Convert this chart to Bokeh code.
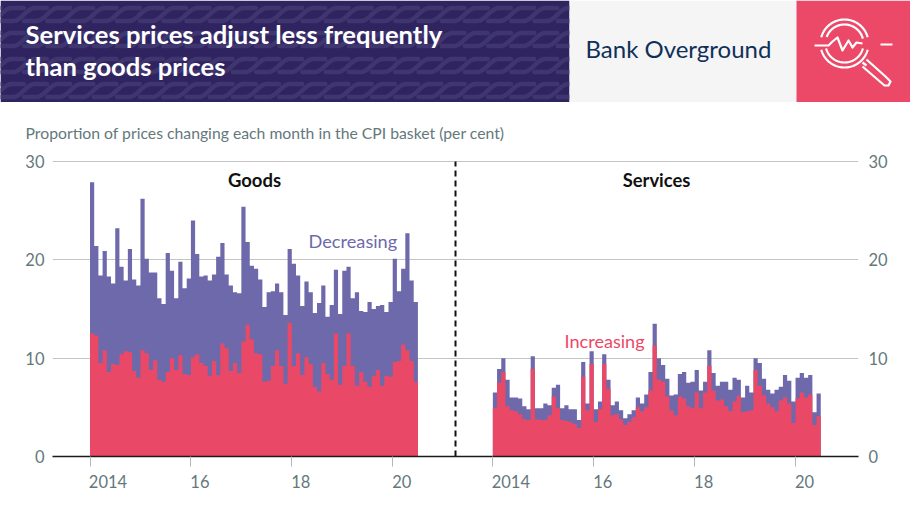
import numpy as np
from bokeh.embed import file_html
from bokeh.layouts import column
from bokeh.models import FixedTicker, Grid, Label, LinearAxis, Range1d
from bokeh.plotting import figure
from bokeh.resources import INLINE

# ---- Data (per cent of prices changing each month) ----
goods_increase = [12.5,12.3,9.5,10.8,8.6,9.4,9.3,10.4,10.7,10.6,8.7,8.0,10.8,10.5,8.8,9.8,7.8,7.6,8.6,10.0,
                  8.8,10.3,8.4,8.3,10.1,10.4,9.5,9.2,8.2,9.7,8.3,11.5,11.0,8.7,9.5,8.5,11.7,13.4,11.9,10.5,
                  10.4,7.6,7.7,9.2,10.8,9.2,7.4,13.6,9.2,10.5,8.3,10.1,9.4,7.1,6.6,9.5,8.4,7.8,12.5,7.3,
                  9.2,12.5,9.2,7.2,8.6,7.6,7.1,8.2,8.8,7.2,8.2,8.1,9.6,9.7,11.4,10.8,9.7,7.6]
goods_all_changes = [27.9,21.4,18.4,20.9,18.3,17.6,23.2,19.3,17.9,21.1,18.0,17.4,26.2,20.1,18.7,18.7,16.1,15.5,20.7,18.9,
                     16.1,19.8,17.1,18.1,24.0,20.6,18.3,18.4,17.9,18.5,20.3,21.7,18.5,17.4,16.7,16.6,25.4,21.8,19.4,19.1,
                     18.0,15.2,16.7,16.8,17.6,16.7,14.4,21.1,19.6,18.4,15.3,17.8,16.7,14.6,15.6,17.4,14.2,15.4,19.0,14.5,
                     18.9,19.3,16.1,16.7,14.8,14.7,15.7,15.0,15.3,15.4,14.7,15.7,20.1,16.8,19.1,22.7,17.9,15.7]
services_increase = [4.9,7.5,8.6,5.1,4.7,4.6,4.3,3.8,3.7,8.9,3.8,3.7,3.7,4.2,6.1,4.9,3.7,3.6,3.5,3.3,
                     2.9,8.1,4.7,9.4,3.5,4.8,9.4,6.9,4.2,4.3,3.8,3.2,3.5,4.0,5.0,4.6,5.0,6.7,11.3,7.8,
                     7.6,6.1,4.7,4.2,6.1,5.9,5.1,4.9,6.5,4.9,6.5,9.2,6.7,5.7,5.8,5.1,4.6,5.6,6.2,4.5,
                     4.6,4.7,8.8,7.2,6.2,5.4,5.0,4.6,5.7,6.0,5.4,3.4,5.9,6.5,6.0,6.3,3.2,4.1]
services_all_changes = [6.5,8.9,10.0,7.8,6.0,6.0,5.9,5.1,4.8,10.2,4.9,4.9,5.4,5.2,7.0,7.3,4.9,5.2,4.8,4.8,
                        3.7,9.6,5.4,10.7,4.8,5.6,10.4,7.8,5.2,5.6,4.7,3.9,4.3,4.7,6.0,5.4,6.3,8.6,13.5,10.0,
                        9.3,7.9,6.2,6.3,8.4,8.6,7.5,7.6,8.8,6.7,7.6,10.8,8.5,7.2,7.6,7.6,6.8,8.0,7.8,6.0,
                        7.2,6.5,10.0,9.5,7.9,6.8,6.4,6.8,7.1,8.3,7.7,5.6,8.0,8.5,8.0,8.3,4.5,6.4]
year_tick_labels = ["2014", "16", "18", "20"]
year_tick_values = [2014, 2016, 2018, 2020]
y_ticks = [0, 10, 20, 30]
SERVICES_SHIFT = 7.985   # the services panel is drawn about 8 axis-years to the right of goods
DIVIDER_YEAR = 2021.245

PURPLE, RED = "#6e69aa", "#ea4867"
TICK_COL = "#64787c"
FONT = "Lato"

# ---- Header strip: drawn in page pixels ----
h = figure(width=910, height=102, output_backend="svg", toolbar_location=None,
           x_range=Range1d(0, 910), y_range=Range1d(102, 0), frame_align=False,
           x_axis_type=None, y_axis_type=None, min_border=0, outline_line_color=None)
h.grid.visible = False
h.quad(left=0, right=569, top=0, bottom=102, color="#2f2460", line_color=None)

# chain pattern: S-shaped links with flat ends
t = np.linspace(0, 46, 47)
rise = np.clip((t - 12) / 22, 0, 1)
xs, ys = [], []
for yc in (14, 39, 65, 90):
    for x0 in np.arange(-46, 590, 23.2):
        xs.append(list(x0 + t))
        ys.append(list(yc + 6.5 * np.cos(np.pi * rise)))
h.multi_line(xs, ys, line_color="#40366f", line_width=4.5, line_cap="round")

h.quad(left=569, right=796, top=0, bottom=102, color="#f5f5f5", line_color=None)
h.quad(left=796, right=910, top=0, bottom=102, color="#ec4969", line_color=None)

def ring(cx, cy, r, a0, a1):
    a = np.radians(np.linspace(a0, a1, 70))
    return list(cx + r * np.cos(a)), list(cy + r * np.sin(a))

cx, cy = 844, 43
icon = [ring(cx, cy, 24, 15, 165), ring(cx, cy, 24, 195, 345),
        ring(cx, cy, 19, 15, 165), ring(cx, cy, 19, 200, 345)]
icon += [([814, 828, 832, 837, 842, 848, 852, 856, 862], [45, 45, 41, 37, 50, 40, 47, 42, 43]),
         ([880, 892], [44, 44]),
         ([862, 866], [62, 65]),
         ([866, 885, 890, 888, 884, 862], [59, 76, 81, 85, 85, 66])]
h.multi_line([i[0] for i in icon], [i[1] for i in icon], line_color="white", line_width=2.2, line_join="round")

for txt, y in (("Services prices adjust less frequently", 33), ("than goods prices", 65)):
    h.add_layout(Label(x=25, y=y, text=txt, text_color="white", text_font=FONT, text_font_style="bold",
                       text_font_size="25.6px", text_baseline="middle", text_align="left"))
h.add_layout(Label(x=585, y=48, text="Bank Overground", text_color="#10305a", text_font=FONT,
                   text_font_size="24px", text_baseline="middle", text_align="left"))

# ---- Chart ----
PX_PER_YEAR = 50.45
x_left = 2014 - (89.5 - 52) / PX_PER_YEAR
x_right = 2014 + (858 - 89.5) / PX_PER_YEAR
PX_PER_UNIT = 295 / 30

p = figure(width=910, height=410, output_backend="svg", toolbar_location=None,
           x_range=Range1d(x_left, x_right), y_range=Range1d(0, 30.1), frame_align=False,
           x_axis_type=None, y_axis_type=None,
           title="Proportion of prices changing each month in the CPI basket (per cent)",
           min_border_left=52, min_border_right=52, min_border_top=57, min_border_bottom=56,
           outline_line_color=None)
p.title.align = "left"
p.title.offset = -27
p.title.standoff = 37
p.title.text_font = FONT
p.title.text_font_style = "normal"
p.title.text_font_size = "15.75px"
p.title.text_color = TICK_COL

p.add_layout(Grid(dimension=1, ticker=FixedTicker(ticks=y_ticks), grid_line_color="#c4c4c4", grid_line_width=1))

def month_edges(start):
    return [start + i / 12 for i in range(79)]

for start, inc, total in ((2014, goods_increase, goods_all_changes),
                          (2014 + SERVICES_SHIFT, services_increase, services_all_changes)):
    edges = month_edges(start)
    p.varea_step(x=edges, y1=[0] * 79, y2=total + total[-1:], step_mode="after", fill_color=PURPLE)
    p.varea_step(x=edges, y1=[0] * 79, y2=inc + inc[-1:], step_mode="after", fill_color=RED)

p.segment(x0=[DIVIDER_YEAR], y0=[0], x1=[DIVIDER_YEAR], y1=[y_ticks[-1]], line_color="#111111",
          line_width=2, line_dash="6 4")

for place in ("left", "right"):
    ax = LinearAxis(ticker=FixedTicker(ticks=y_ticks), axis_line_color=None,
                    major_tick_line_color=None, minor_tick_line_color=None,
                    major_label_text_color=TICK_COL, major_label_text_font=FONT,
                    major_label_text_font_size="16.5px",
                    major_tick_in=0, major_tick_out=0, minor_tick_in=0, minor_tick_out=0,
                    major_label_standoff=8 if place == "left" else 10)
    p.add_layout(ax, place)

# labels start at the tick, so the labelled (invisible) major ticks sit half a label to the right of the tick marks
label_pos, overrides, tick_marks = [], {}, []
for shift in (0, SERVICES_SHIFT):
    for yr, lab in zip(year_tick_values, year_tick_labels):
        pos = yr + shift + (18 if len(lab) == 4 else 9) / PX_PER_YEAR
        label_pos.append(pos)
        overrides[pos] = lab
        tick_marks.append(yr + shift)
xax = LinearAxis(ticker=FixedTicker(ticks=label_pos, minor_ticks=tick_marks),
                 major_label_overrides=overrides, axis_line_color="#1a1a1a", axis_line_width=1.5,
                 major_tick_line_color=None, major_tick_in=0, major_tick_out=0,
                 minor_tick_line_color="#b5b5b5", minor_tick_in=0, minor_tick_out=10, minor_tick_line_width=1,
                 major_label_text_color=TICK_COL, major_label_text_font=FONT,
                 major_label_text_font_size="16.5px", major_label_standoff=8)
p.add_layout(xax, "below")

def px_x(px): return 2014 + (px - 89.5) / PX_PER_YEAR
def px_y(py): return (456 - py) / PX_PER_UNIT

def text(px, py, s, color, size, align="left", bold=False):
    p.add_layout(Label(x=px_x(px), y=px_y(py), text=s, text_color=color, text_font=FONT,
                       text_font_size=size, text_align=align, text_baseline="middle",
                       text_font_style="bold" if bold else "normal"))

text(254, 180, "Goods", "#111111", "18.5px", "center", True)
text(656, 180, "Services", "#111111", "18.4px", "center", True)
text(308, 241, "Decreasing", PURPLE, "18.2px")
text(564, 341, "Increasing", RED, "18.1px")

page = column(h, p, spacing=0)
open("out.html", "w").write(file_html(page, INLINE))
